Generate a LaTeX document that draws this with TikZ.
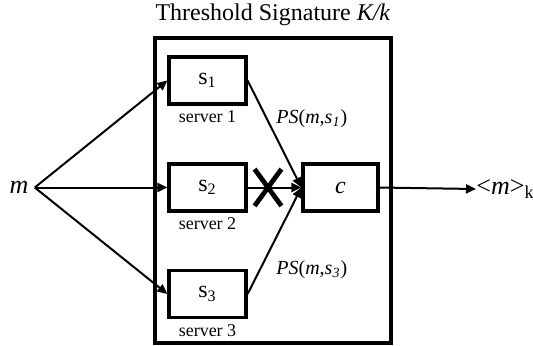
\documentclass[tikz,border=0pt]{standalone}
\usepackage{fontspec}
\setmainfont{Liberation Serif}
\usetikzlibrary{arrows.meta,shapes.misc}
\begin{document}
\begin{tikzpicture}[x=0.5pt,y=-0.5pt,
    box/.style={draw,line width=1.6pt,minimum width=38.5pt,minimum height=23.5pt,inner sep=0pt,font=\fontsize{12}{14}\selectfont},
    tag/.style={font=\fontsize{9}{10}\selectfont,inner sep=1pt},
    ps/.style={font=\fontsize{10}{12}\selectfont,anchor=west,inner sep=0pt},
    arr/.style={line width=1pt,-{Triangle[length=5pt,width=4.5pt]}}]
  \useasboundingbox (0,0) rectangle (533,345);

  \node[font=\fontsize{12}{14}\selectfont] (title) at (273,15) {Threshold Signature \textit{K/k}};
  \node[draw,line width=1.6pt,minimum width=118pt,minimum height=152.5pt] (frame) at (273,190.5) {};

  \node[box,label={[tag,label distance=1.5pt]below:server 1}] (s1) at (207.5,80.5) {s\textsubscript{1}};
  \node[box,label={[tag,label distance=1.5pt]below:server 2}] (s2) at (207.5,187.5) {s\textsubscript{2}};
  \node[box,label={[tag,label distance=1.5pt]below:server 3}] (s3) at (207.5,294) {s\textsubscript{3}};
  \node[box,minimum width=37.5pt] (c) at (340.5,187.5) {\textit{c}};

  \node[font=\fontsize{13}{15}\selectfont\itshape,inner xsep=3pt,inner ysep=0pt] (m) at (19,187.5) {m};
  \node[font=\fontsize{13}{15}\selectfont,anchor=west,inner sep=0pt] (out) at (476,189) {\textless\textit{m}\textgreater\textsubscript{k}};

  \node[ps] (ps1) at (276,119) {\textit{PS}(\textit{m},\textit{s}\textsubscript{\textit{1}})};
  \node[ps] (ps3) at (276,270) {\textit{PS}(\textit{m},\textit{s}\textsubscript{\textit{3}})};

  % fan out to the servers
  \foreach \s in {s1,s2,s3}
    \draw[arr] (m.east) -- (\s.west);

  % partial signatures to the combiner
  \draw[arr] (s1.east) -- (c.west);
  \draw[arr] (s2.east) -- (c.west);
  \draw[arr] (s3.east) -- (c.west);
  \node[cross out,draw,line width=2.4pt,minimum width=11pt,minimum height=16pt,inner sep=0pt] (cut) at (268,187.5) {};

  \draw[arr] (c.east) -- (out.west);
\end{tikzpicture}
\end{document}
